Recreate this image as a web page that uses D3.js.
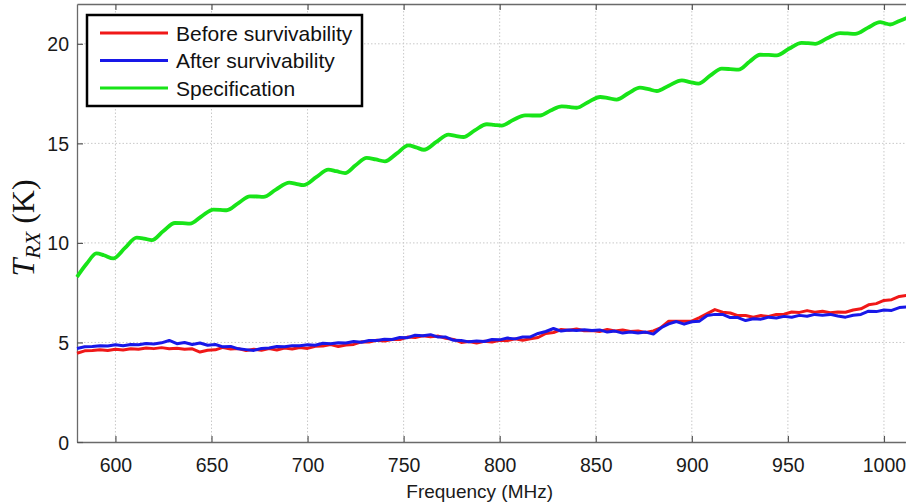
<!DOCTYPE html>
<html>
<head>
<meta charset="utf-8">
<script src="https://cdn.jsdelivr.net/npm/d3@7"></script>
<style>
  body { margin: 0; background: #fff; }
  svg { display: block; }
</style>
</head>
<body>
<div id="chart"></div>
<script>
// x ticks / y ticks
const xTicks = [600, 650, 700, 750, 800, 850, 900, 950, 1000];
const yTicks = [0, 5, 10, 15, 20];

// measured curves, sampled every 4 MHz from 580 to 1012
const measFreq = d3.range(580, 1013, 4);
const beforeSurv = [
  4.46,4.58,4.59,4.63,4.60,4.66,4.62,4.68,4.66,4.72,
  4.69,4.74,4.68,4.71,4.66,4.68,4.52,4.61,4.63,4.75,
  4.67,4.69,4.59,4.66,4.61,4.69,4.62,4.72,4.67,4.75,
  4.70,4.81,4.82,4.89,4.80,4.87,4.90,5.03,5.02,5.11,
  5.07,5.15,5.15,5.27,5.25,5.33,5.28,5.32,5.21,5.15,
  5.00,5.05,4.97,5.06,5.02,5.11,5.09,5.18,5.11,5.19,
  5.25,5.45,5.50,5.65,5.61,5.68,5.59,5.60,5.55,5.65,
  5.58,5.63,5.55,5.58,5.50,5.58,5.75,6.07,6.07,6.07,
  6.07,6.25,6.45,6.65,6.52,6.48,6.35,6.35,6.27,6.35,
  6.31,6.41,6.42,6.53,6.51,6.60,6.52,6.57,6.49,6.53,
  6.52,6.63,6.69,6.89,6.95,7.11,7.15,7.31,7.37
];
const afterSurv = [
  4.70,4.78,4.80,4.84,4.82,4.88,4.83,4.90,4.88,4.95,
  4.92,4.98,5.10,4.94,5.00,4.90,4.97,4.86,4.90,4.78,
  4.80,4.68,4.64,4.60,4.70,4.72,4.80,4.78,4.84,4.83,
  4.88,4.86,4.96,4.93,4.99,4.97,5.05,5.01,5.10,5.10,
  5.16,5.15,5.25,5.24,5.36,5.34,5.39,5.27,5.27,5.11,
  5.10,5.03,5.07,5.05,5.15,5.13,5.22,5.18,5.27,5.28,
  5.45,5.55,5.70,5.57,5.62,5.60,5.64,5.60,5.63,5.52,
  5.57,5.47,5.53,5.48,5.52,5.42,5.74,5.93,6.05,5.92,
  6.04,6.07,6.35,6.41,6.41,6.25,6.25,6.10,6.19,6.17,
  6.27,6.23,6.31,6.27,6.36,6.32,6.41,6.37,6.41,6.33,
  6.27,6.37,6.41,6.57,6.55,6.63,6.61,6.75,6.79
];

// specification curve: peaks / troughs
const specFreq = [
  580,585,590.2,594,598.9,605,611.1,615,618.9,625,631,635,638.8,645,651,654.5,657.9,
  664,670,673.5,677,683.5,690.5,694,697.8,704.5,710.8,715,719.5,725,730.8,735.5,740.3,
  746.5,752.5,756.5,760.6,767,773.3,777,781.1,787,793.3,797,801,807,813.2,817,821,
  826.5,832.3,836,840.1,846,852.3,856.5,860.9,867,873,877.5,881.8,888,894.8,899,903.4,
  909.5,915.6,920,924.3,930,935.5,940,944.2,950.5,957.2,960.5,964.2,970.5,977.2,981,985,
  991.5,998,1000.5,1003.2,1008,1012
];
const specValue = [
  8.29,8.95,9.47,9.38,9.22,9.75,10.27,10.22,10.14,10.6,11.0,10.99,10.97,11.35,11.67,11.66,11.64,
  12.0,12.34,12.33,12.31,12.68,13.03,12.97,12.9,13.3,13.68,13.6,13.51,13.9,14.27,14.19,14.1,
  14.5,14.9,14.8,14.68,15.07,15.44,15.38,15.32,15.65,15.96,15.93,15.89,16.17,16.41,16.4,16.4,
  16.65,16.86,16.83,16.79,17.07,17.33,17.27,17.2,17.52,17.8,17.72,17.63,17.9,18.16,18.08,18.0,
  18.4,18.75,18.73,18.7,19.1,19.45,19.44,19.42,19.75,20.05,20.03,20.0,20.28,20.54,20.52,20.5,
  20.8,21.09,21.03,20.97,21.15,21.3
];

const legendLabels = ["Before survivability", "After survivability", "Specification"];
const colors = ["#f01818", "#1818e8", "#18e418"];

const W = 906, H = 504;
const margin = { top: 4, right: -1, bottom: 62, left: 77 };
const width = W - margin.left - margin.right;
const height = H - margin.top - margin.bottom;

const svg = d3.select("#chart")
  .append("svg")
    .attr("width", W)
    .attr("height", H)
  .append("g")
    .attr("transform", `translate(${margin.left},${margin.top})`);

const x = d3.scaleLinear().domain([580, 1012]).range([0, width]);
const y = d3.scaleLinear().domain([0, 22]).range([height, 0]);

// grid
svg.append("g")
  .selectAll("line")
  .data(xTicks)
  .join("line")
    .attr("x1", d => x(d)).attr("x2", d => x(d))
    .attr("y1", 0).attr("y2", height)
    .attr("stroke", "#c8c8c8")
    .attr("stroke-dasharray", "1.5,2");
svg.append("g")
  .selectAll("line")
  .data(yTicks.filter(d => d > 0))
  .join("line")
    .attr("x1", 0).attr("x2", width)
    .attr("y1", d => y(d)).attr("y2", d => y(d))
    .attr("stroke", "#c8c8c8")
    .attr("stroke-dasharray", "1.5,2");

// axes (matlab style: inward ticks)
const xAxis = svg.append("g")
  .attr("transform", `translate(0,${height})`)
  .call(d3.axisBottom(x).tickValues(xTicks).tickFormat(d3.format("d"))
    .tickSizeInner(-6).tickSizeOuter(0).tickPadding(16));
const xTop = svg.append("g")
  .call(d3.axisTop(x).tickValues(xTicks).tickSizeInner(-6).tickSizeOuter(0).tickFormat(""));
const yAxis = svg.append("g")
  .call(d3.axisLeft(y).tickValues(yTicks).tickSizeInner(-6).tickSizeOuter(0).tickPadding(8));

[xAxis, xTop, yAxis].forEach(g => {
  g.select(".domain").attr("stroke", "#6a6a6a").attr("stroke-width", 1.3);
  g.selectAll(".tick line").attr("stroke", "#555").attr("stroke-width", 1.2);
  g.selectAll("text")
    .attr("font-family", "Liberation Sans, Arial, sans-serif")
    .attr("font-size", 19.5)
    .attr("fill", "#1a1a1a");
});
yAxis.selectAll("text").attr("dy", "0.36em");

// curves
const line = d3.line()
  .x(d => x(d[0]))
  .y(d => y(d[1]));

const plot = svg.append("g");
plot.append("path")
  .datum(d3.zip(specFreq, specValue))
  .attr("fill", "none")
  .attr("stroke", colors[2])
  .attr("stroke-width", 3.8)
  .attr("stroke-linejoin", "round")
  .attr("d", line.curve(d3.curveMonotoneX));

line.curve(d3.curveLinear);
plot.append("path")
  .datum(d3.zip(measFreq, beforeSurv))
  .attr("fill", "none")
  .attr("stroke", colors[0])
  .attr("stroke-width", 3)
  .attr("stroke-linejoin", "round")
  .attr("d", line);
plot.append("path")
  .datum(d3.zip(measFreq, afterSurv))
  .attr("fill", "none")
  .attr("stroke", colors[1])
  .attr("stroke-width", 3)
  .attr("stroke-linejoin", "round")
  .attr("d", line);

// axis labels
svg.append("text")
  .attr("x", x(800) - 20)
  .attr("y", height + 56)
  .attr("text-anchor", "middle")
  .attr("font-family", "Liberation Sans, Arial, sans-serif")
  .attr("font-size", 19)
  .attr("fill", "#1a1a1a")
  .text("Frequency (MHz)");

const yl = svg.append("text")
  .attr("transform", `translate(${-margin.left + 34},${228 - margin.top}) rotate(-90)`)
  .attr("text-anchor", "middle")
  .attr("font-family", "Liberation Serif, Times New Roman, serif")
  .attr("font-size", 32)
  .attr("fill", "#111");
yl.append("tspan").attr("font-style", "italic").text("T");
yl.append("tspan").attr("font-style", "italic").attr("font-size", 22).attr("dy", 6).text("RX");
yl.append("tspan").attr("dy", -6).text(" (K)");

// legend
const legend = svg.append("g")
  .attr("transform", `translate(${87 - margin.left},${15 - margin.top})`);
legend.append("rect")
  .attr("width", 275).attr("height", 91)
  .attr("fill", "#fff")
  .attr("stroke", "#000")
  .attr("stroke-width", 2.5);
const rows = legend.selectAll("g.row")
  .data(legendLabels)
  .join("g")
    .attr("transform", (d, i) => `translate(0,${18 + i * 27.5})`);
rows.append("line")
  .attr("x1", 13).attr("x2", 81)
  .attr("stroke", (d, i) => colors[i])
  .attr("stroke-width", 3);
rows.append("text")
  .attr("x", 89)
  .attr("dy", "0.36em")
  .attr("font-family", "Liberation Sans, Arial, sans-serif")
  .attr("font-size", 21)
  .attr("fill", "#111")
  .text(d => d);
</script>
</body>
</html>
